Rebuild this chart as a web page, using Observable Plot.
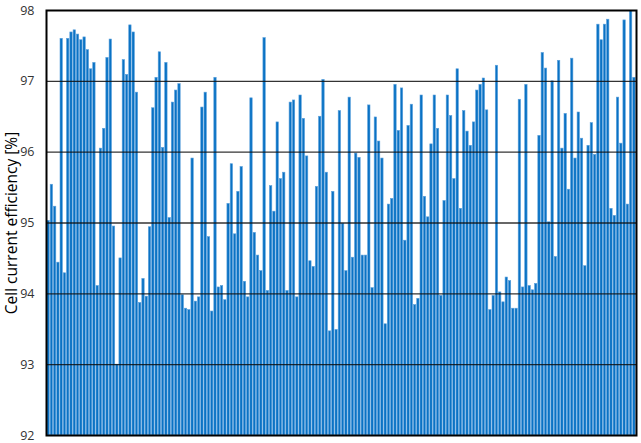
<!DOCTYPE html>
<html>
<head>
<meta charset="utf-8">
<script src="https://cdn.jsdelivr.net/npm/d3@7"></script>
<script src="https://cdn.jsdelivr.net/npm/@observablehq/plot@0.6"></script>
<style>
  html, body { margin: 0; padding: 0; background: #fff; }
  svg { display: block; }
</style>
</head>
<body>
<div id="chart"></div>
<script>
const efficiency = [
  95.03, 95.54, 95.23, 94.44, 97.60, 94.29, 97.60, 97.69, 97.72, 97.66,
  97.58, 97.62, 97.44, 97.17, 97.26, 94.11, 96.05, 96.33, 97.33, 97.59,
  94.95, 93.00, 94.50, 97.30, 97.09, 97.79, 97.69, 96.84, 93.87, 94.21,
  93.96, 94.94, 96.62, 97.05, 97.41, 96.06, 97.26, 95.07, 96.70, 96.87,
  96.96, 93.98, 93.79, 93.77, 95.91, 93.89, 93.95, 96.63, 96.84, 94.80,
  93.75, 97.05, 94.09, 94.11, 93.91, 95.27, 95.83, 94.84, 95.44, 95.79,
  94.17, 93.95, 96.76, 94.86, 94.54, 94.32, 97.61, 94.04, 95.52, 95.16,
  96.42, 95.62, 95.71, 94.04, 96.70, 96.73, 93.95, 96.80, 96.47, 95.94,
  94.46, 94.38, 95.51, 96.50, 97.02, 95.71, 93.47, 95.44, 93.49, 96.58,
  94.99, 94.32, 96.77, 94.51, 95.98, 95.92, 94.54, 94.54, 96.66, 94.08,
  96.49, 96.15, 95.91, 93.57, 95.26, 95.34, 96.95, 96.30, 96.90, 94.75,
  96.37, 96.67, 93.84, 93.93, 96.80, 95.37, 95.08, 96.11, 96.80, 96.33,
  93.97, 95.31, 96.80, 96.51, 95.62, 97.17, 95.20, 96.58, 96.29, 96.09,
  96.42, 96.87, 96.95, 97.04, 96.59, 93.77, 93.97, 97.22, 94.02, 93.88,
  94.23, 94.18, 93.79, 93.79, 96.74, 94.09, 96.95, 94.11, 94.05, 94.14,
  96.23, 97.40, 97.18, 95.01, 97.00, 94.52, 97.29, 96.05, 96.54, 95.47,
  97.32, 95.91, 96.56, 96.19, 94.39, 96.09, 96.41, 95.96, 97.80, 97.58,
  97.80, 97.87, 95.20, 95.10, 96.77, 96.12, 97.86, 95.26, 97.99, 97.05
];
const yTicks = [92, 93, 94, 95, 96, 97, 98];
const gridValues = [93, 94, 95, 96, 97];
const yLabel = "Cell current efficiency [%]";

const data = efficiency.map((v, i) => ({i: i + 1, v}));

const chart = Plot.plot({
  width: 641,
  height: 443,
  marginLeft: 46,
  marginRight: 5,
  marginTop: 10,
  marginBottom: 8,
  style: {fontFamily: "'Open Sans', sans-serif", fontSize: "13px", color: "#404040", background: "#fff", overflow: "visible"},
  x: {type: "band", domain: data.map(d => d.i), padding: 0.28, axis: null},
  y: {domain: [92, 98], ticks: yTicks, label: null},
  marks: [
    Plot.barY(data, {x: "i", y1: 92, y2: "v", fill: "#0a72c4", stroke: "#5aa0dc", strokeWidth: 0.6}),
    Plot.ruleY(gridValues, {stroke: "#111", strokeWidth: 1.3, strokeOpacity: 0.85}),
    Plot.frame({stroke: "#000", strokeWidth: 2}),
    Plot.axisY({ticks: yTicks, tickFormat: d => String(d), tickSize: 0, tickPadding: 12, label: null, fontSize: 12.5, fill: "#333"}),
    Plot.text([yLabel], {
      frameAnchor: "left", dx: -34, rotate: -90, textAnchor: "middle", fontSize: 15.5, fill: "#000", text: d => d
    })
  ]
});
document.getElementById("chart").appendChild(chart);
</script>
</body>
</html>
